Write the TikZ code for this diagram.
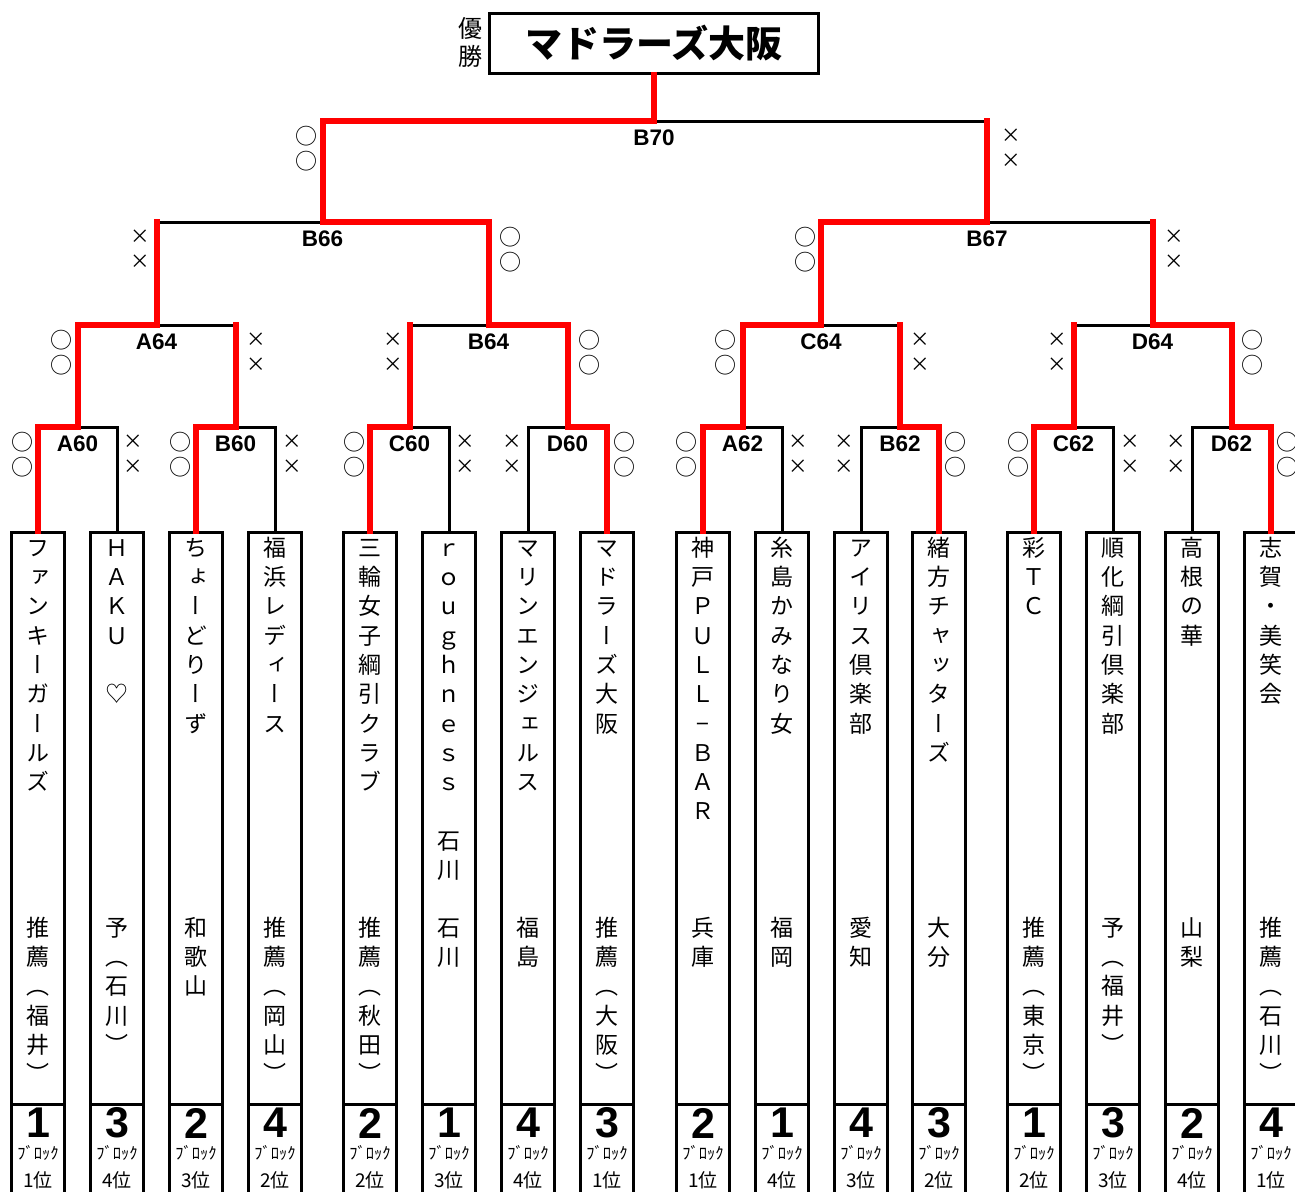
\documentclass[tikz,border=0pt]{standalone}
\usepackage{fontspec}
\newfontfamily\jp{Noto Sans CJK JP}
\newfontfamily\jpv[RawFeature=+vert]{Noto Sans CJK JP}
\newfontfamily\lab{Liberation Sans}
\usetikzlibrary{positioning}
\definecolor{winred}{RGB}{255,0,0}

% stacked (vertical) text, one character per line
\makeatletter
\newcommand\vtext[2][29.3pt]{\edef\vt@list{#2}\vbox{\baselineskip=#1\lineskip=0pt\lineskiplimit=-\maxdimen
  \def\vt@go{\@tfor\vt@c:=}\expandafter\vt@go\vt@list\do{\hbox to 40pt{\hss\vrule height 20pt depth 0pt width 0pt\vt@c\hss}}}}
\makeatother

\begin{document}
\begin{tikzpicture}[x=1pt,y=-1pt,
  bline/.style={line width=3pt, black},
  wline/.style={line width=6pt, winred, line cap=rect, line join=miter},
  tbox/.style={draw, line width=3pt, minimum width=53pt, minimum height=700pt, anchor=north, inner sep=0pt},
  tname/.style={font=\jpv\fontsize{23}{29}\selectfont, anchor=north, inner sep=0pt},
  mlab/.style={font=\lab\bfseries\fontsize{22.5}{26}\selectfont, inner sep=0pt},
  mk/.style={inner sep=0pt, font=\jp},
  numtxt/.style={font=\lab\bfseries\fontsize{43}{46}\selectfont, inner sep=0pt},
  blktxt/.style={font=\jp\fontsize{16.5}{18}\selectfont, inner sep=0pt},
  rktxt/.style={font=\jp\fontsize{19}{20}\selectfont, inner sep=0pt}]
\useasboundingbox (0,0) rectangle (1295,1191);
\coordinate (divy) at (0,1104);

% winner
\node[draw, line width=3pt, minimum width=329pt, minimum height=60pt, inner sep=0pt] (win) at (654,43.5)
  {\jp\bfseries\fontsize{37}{40}\selectfont マドラーズ大阪};
\node[anchor=north, inner sep=0pt, font=\jpv\fontsize{24}{29}\selectfont] (yusho) at (470,17) {\vtext[28pt]{優勝}};

% teams
\foreach \i/\x/\nm/\pr/\blk/\rk in {
  1/38/ファンキーガールズ/推薦（福井）/1/1,
  2/117/ＨＡＫＵ　♡/予（石川）/3/4,
  3/196/ちょーどりーず/和歌山/2/3,
  4/275/福浜レディース/推薦（岡山）/4/2,
  5/370/三輪女子綱引クラブ/推薦（秋田）/2/2,
  6/449/ｒｏｕｇｈｎｅｓｓ　石川/石川/1/3,
  7/528/マリンエンジェルス/福島/4/4,
  8/607/マドラーズ大阪/推薦（大阪）/3/1,
  9/703/神戸ＰＵＬＬ−ＢＡＲ/兵庫/2/1,
  10/782/糸島かみなり女/福岡/1/4,
  11/861/アイリス倶楽部/愛知/4/3,
  12/939/緒方チャッターズ/大分/3/2,
  13/1034/彩ＴＣ/推薦（東京）/1/2,
  14/1113/順化綱引倶楽部/予（福井）/3/3,
  15/1192/高根の華/山梨/2/4,
  16/1271/志賀・美笑会/推薦（石川）/4/1}{
  \node[tbox] (t\i) at (\x,531) {};
  \draw[bline] (t\i.west |- divy) -- (t\i.east |- divy);
  \node[tname] (nm\i) at (\x,536) {\vtext{\nm}};
  \node[tname] (pr\i) at (\x,916) {\vtext{\pr}};
  \node[numtxt] (no\i) at (\x,1123) {\blk};
  \node[blktxt] (bk\i) at (\x,1153) {ﾌﾞﾛｯｸ};
  \node[rktxt] (rk\i) at (\x,1180) {\rk{}位};
}

% match points
\coordinate (A60) at (77.5,427);
\coordinate (B60) at (235.5,427);
\coordinate (C60) at (409.5,427);
\coordinate (D60) at (567.5,427);
\coordinate (A62) at (742.5,427);
\coordinate (B62) at (900,427);
\coordinate (C62) at (1073.5,427);
\coordinate (D62) at (1231.5,427);
\coordinate (A64) at (156.5,325);
\coordinate (B64) at (488.5,325);
\coordinate (C64) at (821,325);
\coordinate (D64) at (1152.5,325);
\coordinate (B66) at (322.5,222);
\coordinate (B67) at (987,222);
\coordinate (B70) at (654,121);

% lost sides
\draw[bline] (t2.north) |- (A60);
\draw[bline] (t4.north) |- (B60);
\draw[bline] (t6.north) |- (C60);
\draw[bline] (t7.north) |- (D60);
\draw[bline] (t10.north) |- (A62);
\draw[bline] (t11.north) |- (B62);
\draw[bline] (t14.north) |- (C62);
\draw[bline] (t15.north) |- (D62);
\draw[bline] (B60 |- A64) -- (A64);
\draw[bline] (C60 |- B64) -- (B64);
\draw[bline] (B62 |- C64) -- (C64);
\draw[bline] (C62 |- D64) -- (D64);
\draw[bline] (A64 |- B66) -- (B66);
\draw[bline] (D64 |- B67) -- (B67);
\draw[bline] (B67 |- B70) -- (B70);

% winning sides
\draw[wline] (t1.north) |- (A60);
\draw[wline] (t3.north) |- (B60);
\draw[wline] (t5.north) |- (C60);
\draw[wline] (t8.north) |- (D60);
\draw[wline] (t9.north) |- (A62);
\draw[wline] (t12.north) |- (B62);
\draw[wline] (t13.north) |- (C62);
\draw[wline] (t16.north) |- (D62);
\draw[wline] (A60) |- (A64);
\draw[wline] (B60) -- (B60 |- A64);
\draw[wline] (C60) -- (C60 |- B64);
\draw[wline] (D60) |- (B64);
\draw[wline] (A62) |- (C64);
\draw[wline] (B62) -- (B62 |- C64);
\draw[wline] (C62) -- (C62 |- D64);
\draw[wline] (D62) |- (D64);
\draw[wline] (A64) -- (A64 |- B66);
\draw[wline] (B64) |- (B66);
\draw[wline] (C64) |- (B67);
\draw[wline] (D64) -- (D64 |- B67);
\draw[wline] (B66) |- (B70);
\draw[wline] (B67) -- (B67 |- B70);
\draw[wline] (B70) -- (win.south);

% match labels
\foreach \m in {A60,B60,C60,D60,A62,B62,C62,D62,A64,B64,C64,D64,B66,B67,B70}
  \node[mlab, below=9pt of \m] (l\m) {\m};

% results
\foreach \x/\y/\s [count=\k] in {22/427/o,133/427/x,180/427/o,292/427/x,354/427/o,465/427/x,
    512/427/x,624/427/o,686/427/o,798/427/x,844/427/x,955/427/o,1018/427/o,1130/427/x,1176/427/x,1287/427/o,
    61/325/o,256/325/x,393/325/x,589/325/o,725/325/o,920/325/x,1057/325/x,1252/325/o,
    140/222/x,510/222/o,805/222/o,1174/222/x,306/121/o,1011/121/x}{
  \node[mk] (r\k a) at (\x,\y+15) {\if o\s\fontsize{22}{24}\selectfont ○\else\fontsize{19.5}{20}\selectfont ×\fi};
  \node[mk] (r\k b) at (\x,\y+40) {\if o\s\fontsize{22}{24}\selectfont ○\else\fontsize{19.5}{20}\selectfont ×\fi};
}
\end{tikzpicture}
\end{document}
